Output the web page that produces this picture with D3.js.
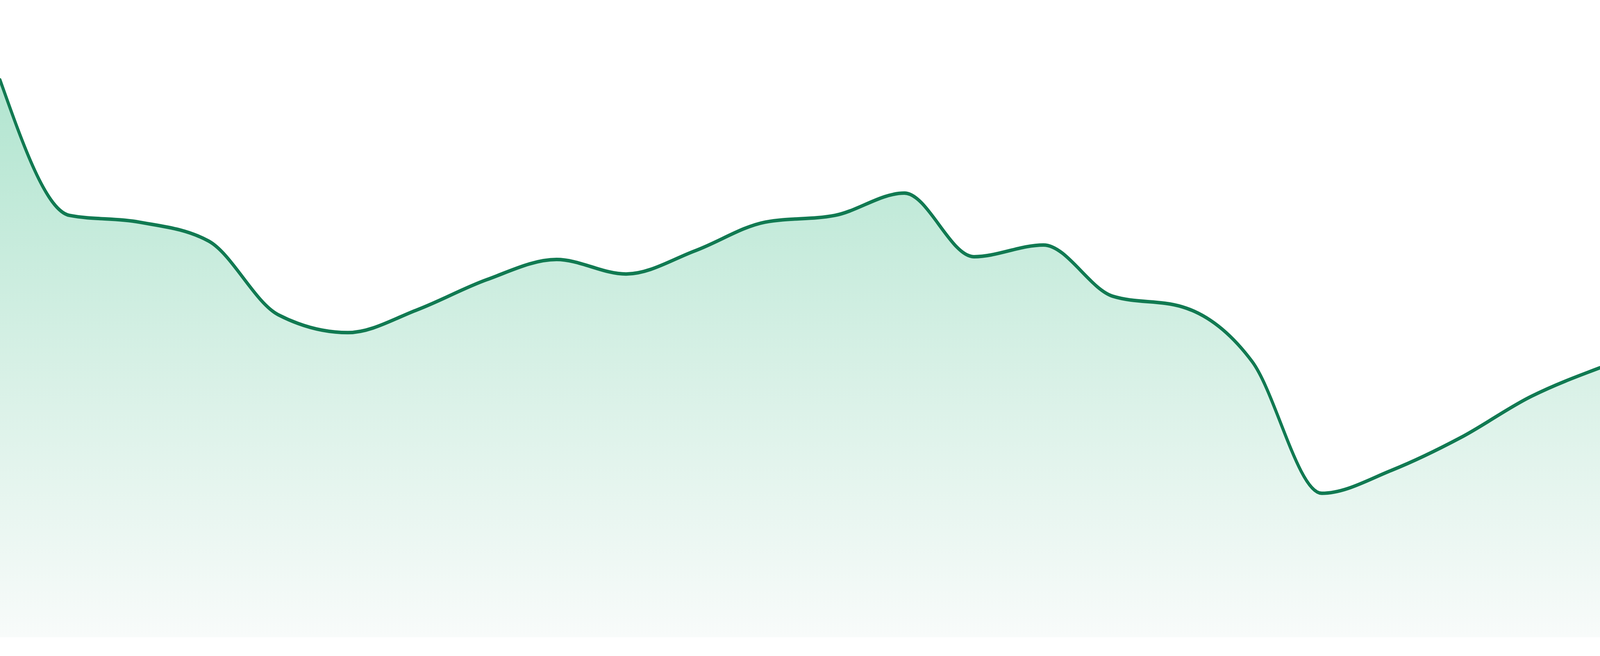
<!DOCTYPE html>
<html>
<head>
<meta charset="utf-8">
<script src="https://cdn.jsdelivr.net/npm/d3@7"></script>
<style>
  html, body { margin: 0; padding: 0; background: #fff; overflow: hidden; }
  #chart svg { display: block; width: 100vw; height: 100vh; }
</style>
</head>
<body>
<div id="chart"></div>
<script>
// hourly readings, no axes shown in the original
const hours = ['00:00', '01:00', '02:00', '03:00', '04:00', '05:00', '06:00', '07:00',
  '08:00', '09:00', '10:00', '11:00', '12:00', '13:00', '14:00', '15:00',
  '16:00', '17:00', '18:00', '19:00', '20:00', '21:00', '22:00', '23:00'];
const values = [99.9, 75.6, 74.4, 71.0, 57.8, 54.6, 58.7, 64.1,
  67.7, 65.1, 69.3, 74.4, 75.6, 79.6, 68.2, 70.3,
  61.1, 59.2, 49.4, 25.8, 29.9, 35.8, 43.1, 48.3];
const yDomain = [0, 100];

// drawing is done in 4800x1680 units and scaled to whatever the viewport is
const chartWidth = 4800;
const chartHeight = 1680;
const plotBottom = 1632;
const plotTop = 203;

const data = hours.map((h, i) => ({hour: h, value: values[i]}));

const x = d3.scalePoint()
  .domain(hours)
  .range([0, chartWidth]);

const y = d3.scaleLinear()
  .domain(yDomain)
  .range([plotBottom, plotTop]);

const svg = d3.select('#chart')
  .append('svg')
    .attr('viewBox', `0 0 ${chartWidth} ${chartHeight}`)
    .attr('preserveAspectRatio', 'none');

// vertical fade under the line
const grad = svg.append('defs')
  .append('linearGradient')
    .attr('id', 'fade')
    .attr('gradientUnits', 'userSpaceOnUse')
    .attr('x1', 0).attr('x2', 0)
    .attr('y1', y(d3.max(values)))
    .attr('y2', plotBottom);
grad.append('stop').attr('offset', '0%').attr('stop-color', '#b2e5d0');
grad.append('stop').attr('offset', '50%').attr('stop-color', '#d6f0e5');
grad.append('stop').attr('offset', '100%').attr('stop-color', '#f8fbfa');

const area = d3.area()
  .x(d => x(d.hour))
  .y0(plotBottom)
  .y1(d => y(d.value))
  .curve(d3.curveMonotoneX);

const line = d3.line()
  .x(d => x(d.hour))
  .y(d => y(d.value))
  .curve(d3.curveMonotoneX);

svg.append('path')
  .datum(data)
  .attr('fill', 'url(#fade)')
  .attr('d', area);

svg.append('path')
  .datum(data)
  .attr('fill', 'none')
  .attr('stroke', '#117a52')
  .attr('stroke-width', 9)
  .attr('stroke-linejoin', 'round')
  .attr('stroke-linecap', 'round')
  .attr('d', line);
</script>
</body>
</html>
